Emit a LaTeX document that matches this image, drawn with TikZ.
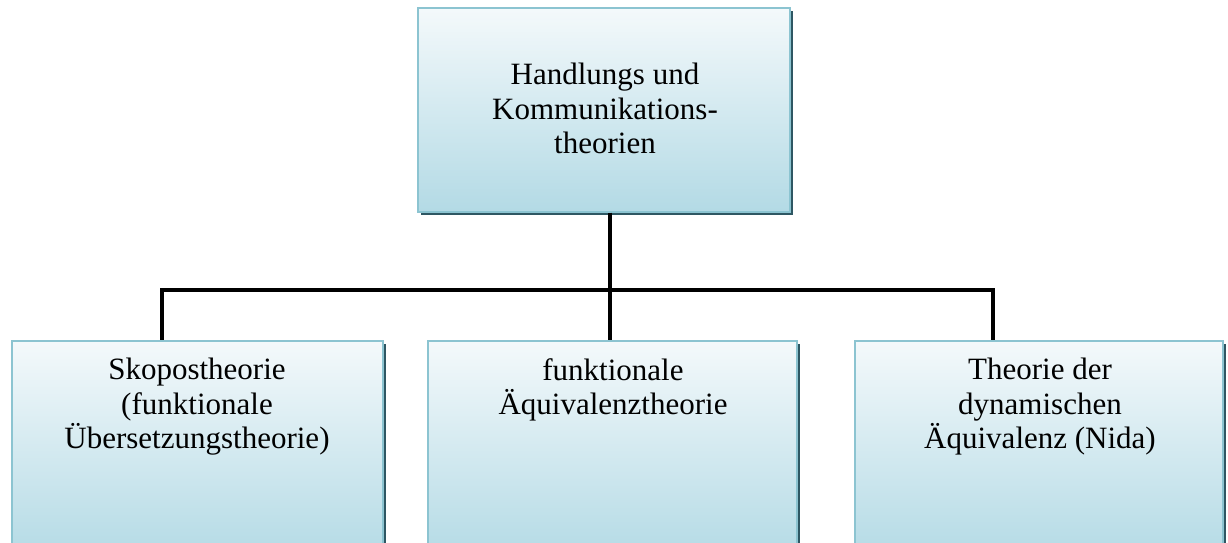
\documentclass[tikz,border=0pt]{standalone}
\usepackage{fontspec}
\setmainfont{Liberation Serif}
\usetikzlibrary{shadows}
\definecolor{boxtop}{HTML}{F4F9FB}
\definecolor{boxbottom}{HTML}{B3DAE5}
\definecolor{boxedge}{HTML}{8CC4D1}
\definecolor{boxshade}{HTML}{2E5763}
\tikzset{
  themebox/.style={draw=boxedge, line width=1.2pt, top color=boxtop, bottom color=boxbottom,
    inner sep=0pt, rectangle,
    drop shadow={shadow xshift=2.8pt, shadow yshift=-2.8pt, fill=boxshade, opacity=1}},
  themetext/.style={align=center, inner sep=0pt,
    font=\fontsize{31}{34.5}\selectfont},
  branch/.style={line width=3.4pt, black}
}
\begin{document}
\begin{tikzpicture}[x=1pt, y=-1pt]
  \useasboundingbox (0,0) rectangle (1228,543);

  % root box
  \node[themebox, minimum width=372pt, minimum height=204pt] (root) at (604,110) {};
  \node[themetext] (roottext) at (605,108.5) {Handlungs und\\Kommunikations-\\theorien};

  % three child boxes (running past the lower edge)
  \node[themebox, minimum width=371pt, minimum height=219pt] (skopos) at (197.5,450.5) {};
  \node[themebox, minimum width=369pt, minimum height=219pt] (funk) at (612.5,450.5) {};
  \node[themebox, minimum width=368pt, minimum height=219pt] (nida) at (1039,450.5) {};

  \node[themetext, anchor=north] (skopostext) at (197,358) {Skopostheorie\\(funktionale\\Übersetzungstheorie)};
  \node[themetext, anchor=north] (funktext) at (613,358) {funktionale\\Äquivalenztheorie};
  \node[themetext, anchor=north] (nidatext) at (1040,358) {Theorie der\\dynamischen\\Äquivalenz (Nida)};

  % tree connectors
  \coordinate (jl) at (162,290);
  \coordinate (jm) at (610,290);
  \coordinate (jr) at (993,290);
  \draw[branch] (jm |- root.south) -- (jm |- funk.north);
  \draw[branch, line cap=rect] (jl) -- (jr);
  \draw[branch] (jl) -- (jl |- skopos.north);
  \draw[branch] (jr) -- (jr |- nida.north);
\end{tikzpicture}
\end{document}
